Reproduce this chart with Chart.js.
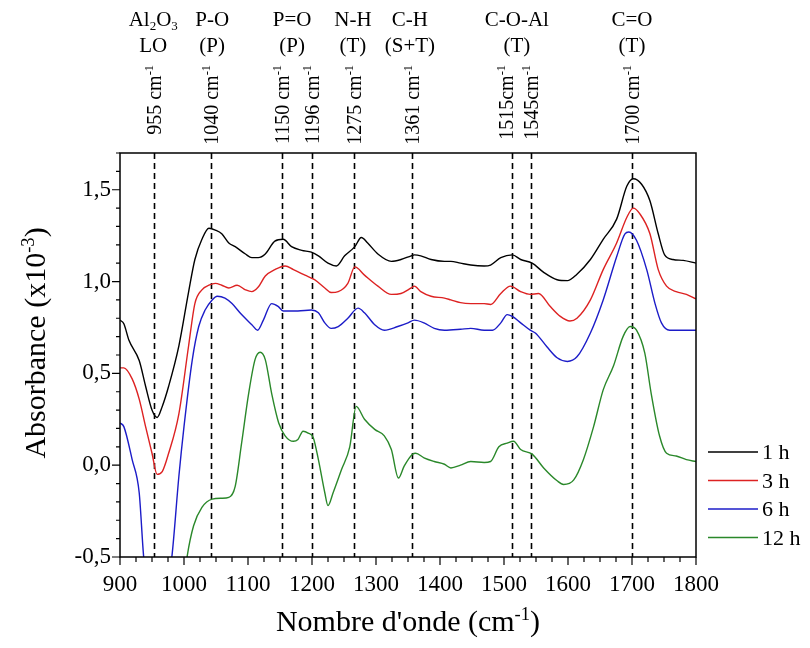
<!DOCTYPE html>
<html lang="fr">
<head>
  <meta charset="UTF-8">
  <title>Absorbance vs nombre d'onde</title>
  <script src="https://cdn.jsdelivr.net/npm/chart.js"></script>
  <style>
    body { margin: 0; padding: 0; background: #fff; }
    #wrap { width: 810px; height: 648px; }
  </style>
</head>
<body>
  <div id="wrap"><canvas id="irChart" width="810" height="648"></canvas></div>

  <script>
    // --- data (wavenumber in cm-1, absorbance x10^-3) ---
    const wn1h = [900, 906, 914, 930, 940, 950, 958, 966, 976, 992, 1007, 1017, 1028, 1039, 1049, 1059, 1070, 1080, 1096, 1106, 1116, 1127, 1142, 1155, 1168, 1184, 1199, 1210, 1225, 1238, 1251, 1267, 1277, 1287, 1303, 1324, 1339, 1355, 1360, 1370, 1386, 1407, 1417, 1432, 1448, 1469, 1479, 1495, 1513, 1526, 1544, 1562, 1583, 1599, 1614, 1635, 1655, 1676, 1692, 1702, 1715, 1728, 1741, 1751, 1764, 1780, 1800];
    const abs1h = [0.79, 0.77, 0.68, 0.57, 0.43, 0.30, 0.26, 0.32, 0.43, 0.65, 0.94, 1.12, 1.23, 1.29, 1.28, 1.26, 1.21, 1.19, 1.15, 1.13, 1.13, 1.15, 1.22, 1.23, 1.19, 1.17, 1.16, 1.14, 1.10, 1.085, 1.14, 1.19, 1.24, 1.21, 1.15, 1.11, 1.12, 1.14, 1.145, 1.14, 1.12, 1.11, 1.11, 1.10, 1.09, 1.085, 1.09, 1.13, 1.145, 1.12, 1.10, 1.05, 1.01, 1.005, 1.04, 1.12, 1.23, 1.34, 1.52, 1.56, 1.53, 1.44, 1.26, 1.145, 1.12, 1.115, 1.10];

    const wn3h = [900, 906, 919, 930, 940, 950, 958, 966, 976, 992, 1007, 1017, 1028, 1039, 1049, 1059, 1070, 1083, 1096, 1106, 1116, 1127, 1142, 1158, 1171, 1189, 1204, 1220, 1230, 1241, 1256, 1267, 1282, 1303, 1324, 1339, 1355, 1360, 1370, 1386, 1407, 1417, 1432, 1448, 1469, 1479, 1495, 1510, 1526, 1541, 1554, 1572, 1588, 1603, 1614, 1635, 1655, 1676, 1692, 1702, 1712, 1728, 1741, 1754, 1769, 1785, 1800];
    const abs3h = [0.53, 0.53, 0.47, 0.36, 0.21, 0.065, -0.05, -0.035, 0.065, 0.28, 0.645, 0.88, 0.955, 0.98, 0.99, 0.98, 0.965, 0.98, 0.955, 0.945, 0.97, 1.03, 1.065, 1.085, 1.065, 1.035, 1.01, 0.965, 0.94, 0.945, 0.99, 1.08, 1.035, 0.975, 0.93, 0.935, 0.965, 0.975, 0.945, 0.92, 0.91, 0.90, 0.885, 0.88, 0.88, 0.875, 0.935, 0.975, 0.945, 0.93, 0.935, 0.865, 0.81, 0.785, 0.80, 0.90, 1.065, 1.21, 1.35, 1.40, 1.37, 1.26, 1.065, 0.975, 0.945, 0.93, 0.905];

    const wn6h = [900, 906, 919, 930, 937, 946, 958, 970, 981, 992, 1000, 1013, 1023, 1033, 1044, 1052, 1064, 1075, 1090, 1106, 1115, 1124, 1137, 1147, 1155, 1178, 1199, 1210, 1220, 1230, 1241, 1256, 1272, 1282, 1298, 1313, 1334, 1350, 1360, 1375, 1391, 1407, 1432, 1448, 1469, 1482, 1495, 1505, 1513, 1526, 1541, 1549, 1567, 1583, 1599, 1614, 1635, 1655, 1676, 1689, 1695, 1707, 1723, 1736, 1746, 1759, 1780, 1800];
    const abs6h = [0.23, 0.21, 0.03, -0.15, -0.5, -0.72, -0.82, -0.72, -0.5, -0.06, 0.21, 0.575, 0.755, 0.845, 0.90, 0.92, 0.91, 0.88, 0.82, 0.765, 0.735, 0.79, 0.88, 0.865, 0.84, 0.84, 0.845, 0.83, 0.775, 0.745, 0.755, 0.80, 0.855, 0.83, 0.765, 0.735, 0.755, 0.775, 0.79, 0.775, 0.745, 0.735, 0.74, 0.745, 0.735, 0.735, 0.775, 0.82, 0.81, 0.775, 0.735, 0.72, 0.645, 0.585, 0.565, 0.59, 0.72, 0.90, 1.135, 1.26, 1.27, 1.225, 1.065, 0.88, 0.775, 0.735, 0.735, 0.735];

    const wn12h = [990, 1005, 1015, 1028, 1044, 1059, 1070, 1080, 1090, 1101, 1111, 1119, 1127, 1137, 1148, 1158, 1171, 1178, 1186, 1194, 1202, 1210, 1220, 1225, 1233, 1246, 1259, 1269, 1282, 1298, 1313, 1324, 1335, 1344, 1357, 1362, 1375, 1391, 1407, 1417, 1432, 1448, 1469, 1479, 1492, 1505, 1515, 1526, 1544, 1562, 1583, 1593, 1609, 1624, 1640, 1655, 1671, 1686, 1697, 1707, 1720, 1730, 1743, 1754, 1769, 1785, 1800];
    const abs12h = [-0.9, -0.495, -0.33, -0.23, -0.185, -0.18, -0.175, -0.115, 0.12, 0.39, 0.575, 0.615, 0.575, 0.39, 0.23, 0.16, 0.13, 0.14, 0.185, 0.175, 0.15, 0.03, -0.15, -0.22, -0.15, -0.025, 0.10, 0.32, 0.25, 0.195, 0.16, 0.085, -0.07, -0.005, 0.06, 0.065, 0.04, 0.02, 0.005, -0.015, 0.0, 0.02, 0.015, 0.02, 0.10, 0.12, 0.13, 0.085, 0.06, -0.015, -0.085, -0.105, -0.08, 0.03, 0.21, 0.41, 0.54, 0.70, 0.755, 0.735, 0.61, 0.39, 0.16, 0.065, 0.05, 0.03, 0.02];

    const seriesNames = ['1 h', '3 h', '6 h', '12 h'];

    // band markers (dashed lines) and their labels
    const bandPos = [953, 1042, 1153, 1200, 1265, 1357, 1512, 1542, 1700];
    const bandText = ['955 ', '1040 ', '1150 ', '1196 ', '1275 ', '1361 ', '1515', '1545', '1700 '];
    const groupPos = [952, 1044, 1169, 1264, 1353, 1520, 1700];
    const groupTop = ['Al2O3', 'P-O', 'P=O', 'N-H', 'C-H', 'C-O-Al', 'C=O'];
    const groupBottom = ['LO', '(P)', '(P)', '(T)', '(S+T)', '(T)', '(T)'];

    const xTicks = [900, 1800, 100, 25];   // min, max, major, minor
    const yTicks = [-0.5, 1.7, 0.5, 0.1];

    const SERIF = "'Liberation Serif', 'Times New Roman', serif";
    const colors = ['#000000', '#dd2222', '#1c1cc8', '#2a882a'];

    function pairs(xs, ys) {
      return xs.map((x, i) => ({ x: x, y: ys[i] }));
    }

    // text with sub/superscripts: parts = [{t, s}] with s = 1 (sup) / -1 (sub)
    function richWidth(ctx, parts, size) {
      let w = 0;
      parts.forEach(p => {
        ctx.font = (p.s ? size * 0.62 : size) + 'px ' + SERIF;
        w += ctx.measureText(p.t).width;
      });
      return w;
    }
    function drawRich(ctx, parts, x, y, size, align) {
      const w = richWidth(ctx, parts, size);
      let cx = align === 'center' ? x - w / 2 : align === 'right' ? x - w : x;
      ctx.textAlign = 'left';
      ctx.textBaseline = 'alphabetic';
      parts.forEach(p => {
        ctx.font = (p.s ? size * 0.62 : size) + 'px ' + SERIF;
        const dy = p.s === 1 ? -size * 0.38 : p.s === -1 ? size * 0.2 : 0;
        ctx.fillText(p.t, cx, y + dy);
        cx += ctx.measureText(p.t).width;
      });
    }
    function chem(s) {
      // digits in formulas become subscripts
      return s.split(/(\d)/).filter(t => t).map(t => /\d/.test(t) ? { t: t, s: -1 } : { t: t });
    }

    const decorations = {
      id: 'decorations',
      beforeDatasetsDraw(chart) {
        const { ctx, chartArea: a, scales: { x } } = chart;
        ctx.save();
        ctx.strokeStyle = '#000';
        ctx.lineWidth = 1.6;
        ctx.setLineDash([6, 4]);
        bandPos.forEach(v => {
          const px = Math.round(x.getPixelForValue(v)) + 0.5;
          ctx.beginPath();
          ctx.moveTo(px, a.top);
          ctx.lineTo(px, a.bottom);
          ctx.stroke();
        });
        ctx.restore();
      },
      afterDraw(chart) {
        const { ctx, chartArea: a, scales: { x, y } } = chart;
        ctx.save();
        ctx.fillStyle = '#000';
        ctx.strokeStyle = '#000';

        // frame
        ctx.lineWidth = 1.5;
        ctx.strokeRect(a.left, a.top, a.right - a.left, a.bottom - a.top);

        // tick marks
        ctx.lineWidth = 1.2;
        ctx.beginPath();
        for (let v = xTicks[0]; v <= xTicks[1] + 1e-6; v += xTicks[3]) {
          const px = x.getPixelForValue(v);
          const major = Math.abs(v % xTicks[2]) < 1e-6;
          ctx.moveTo(px, a.bottom);
          ctx.lineTo(px, a.bottom + (major ? 8 : 5));
        }
        for (let i = 0; ; i++) {
          const v = yTicks[0] + i * yTicks[3];
          if (v > yTicks[1] + 1e-6) break;
          const py = y.getPixelForValue(v);
          const r = (v - yTicks[0]) / yTicks[2];
          const major = Math.abs(r - Math.round(r)) < 1e-6;
          ctx.moveTo(a.left, py);
          ctx.lineTo(a.left - (major ? 8 : 4), py);
        }
        ctx.stroke();

        // band labels (rotated); the 1515 label sits a little left of its line
        bandPos.forEach((v, i) => {
          const px = x.getPixelForValue(v) + (bandText[i] === '1515' ? -6 : 0);
          ctx.save();
          ctx.translate(px + 7, 65);
          ctx.rotate(-Math.PI / 2);
          drawRich(ctx, [{ t: bandText[i] + 'cm' }, { t: '-1', s: 1 }], 0, 0, 20, 'right');
          ctx.restore();
        });

        // group labels on top
        groupPos.forEach((v, i) => {
          const px = x.getPixelForValue(v);
          drawRich(ctx, chem(groupTop[i]), px, 26, 21, 'center');
          drawRich(ctx, [{ t: groupBottom[i] }], px, 52, 21, 'center');
        });

        // axis titles
        drawRich(ctx, [{ t: "Nombre d'onde (cm" }, { t: '-1', s: 1 }, { t: ')' }], (a.left + a.right) / 2, 631, 30, 'center');
        ctx.save();
        ctx.translate(45, 343);
        ctx.rotate(-Math.PI / 2);
        drawRich(ctx, [{ t: 'Absorbance (x10' }, { t: '-3', s: 1 }, { t: ')' }], 0, 0, 30, 'center');
        ctx.restore();

        // legend
        chart.data.datasets.forEach((ds, i) => {
          const ly = 452 + i * 28.5;
          ctx.strokeStyle = ds.borderColor;
          ctx.lineWidth = 1.5;
          ctx.beginPath();
          ctx.moveTo(708, ly);
          ctx.lineTo(758, ly);
          ctx.stroke();
          ctx.fillStyle = '#000';
          drawRich(ctx, [{ t: ds.label }], 762, ly + 7, 22, 'left');
        });
        ctx.restore();
      }
    };

    const ctx = document.getElementById('irChart').getContext('2d');
    const irChart = new Chart(ctx, {
      type: 'line',
      data: {
        datasets: [
          { label: seriesNames[0], data: pairs(wn1h, abs1h), borderColor: colors[0] },
          { label: seriesNames[1], data: pairs(wn3h, abs3h), borderColor: colors[1] },
          { label: seriesNames[2], data: pairs(wn6h, abs6h), borderColor: colors[2] },
          { label: seriesNames[3], data: pairs(wn12h, abs12h), borderColor: colors[3] }
        ]
      },
      options: {
        responsive: false,
        animation: false,
        layout: { padding: { top: 153, right: 114, left: 0, bottom: 0 } },
        elements: {
          point: { radius: 0 },
          line: { borderWidth: 1.4, fill: false, cubicInterpolationMode: 'monotone' }
        },
        plugins: {
          legend: { display: false },
          tooltip: { enabled: false },
          title: { display: false }
        },
        scales: {
          x: {
            type: 'linear',
            min: xTicks[0],
            max: xTicks[1],
            afterFit: s => { s.height = 91; },
            grid: { display: false, drawTicks: false },
            border: { display: false },
            ticks: {
              stepSize: xTicks[2],
              padding: 14,
              color: '#000',
              maxRotation: 0,
              font: { family: SERIF, size: 23 },
              callback: v => String(v)
            }
          },
          y: {
            type: 'linear',
            min: yTicks[0],
            max: yTicks[1],
            afterFit: s => { s.width = 120; },
            grid: { display: false, drawTicks: false },
            border: { display: false },
            ticks: {
              stepSize: yTicks[2],
              includeBounds: false,
              padding: 9,
              color: '#000',
              font: { family: SERIF, size: 23 },
              callback: v => v.toFixed(1).replace('.', ',')
            }
          }
        }
      },
      plugins: [decorations]
    });
  </script>
</body>
</html>
